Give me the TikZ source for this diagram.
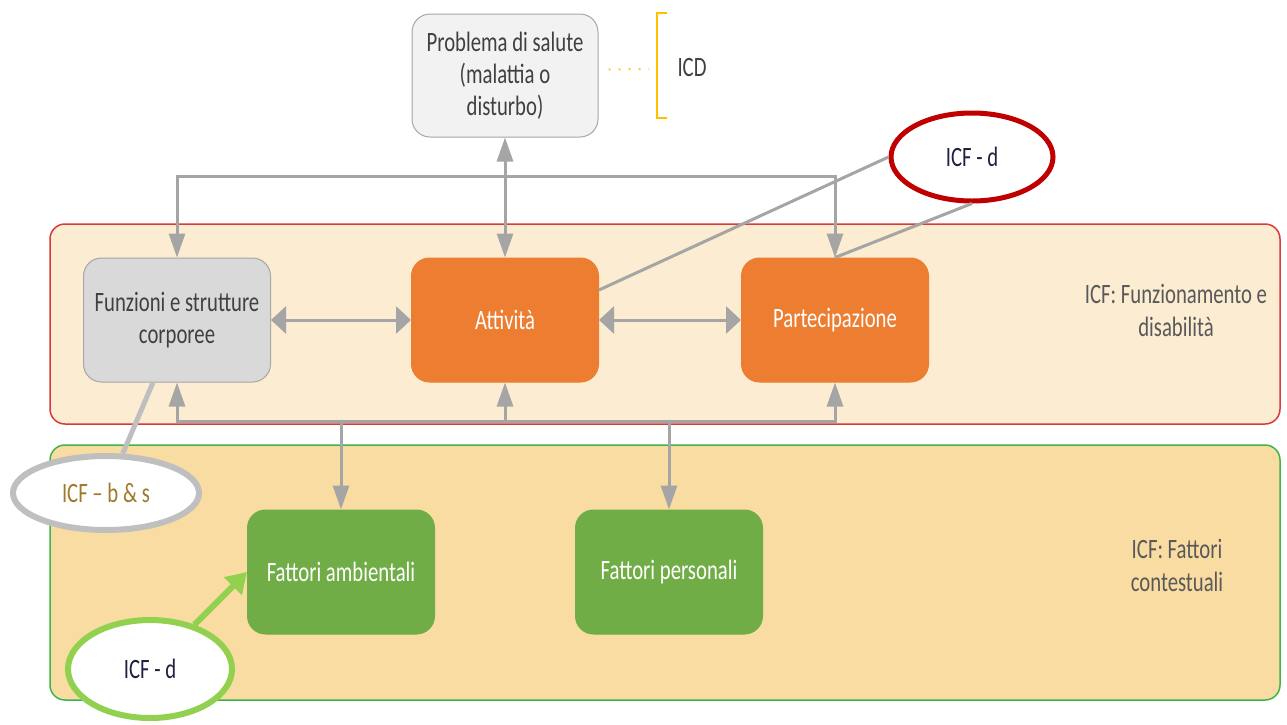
\documentclass[tikz,border=0pt]{standalone}
\usepackage{fontspec}
\setmainfont{Carlito}[FakeStretch=0.74]
\usetikzlibrary{arrows.meta,shapes.geometric,calc}
\definecolor{bandAfill}{HTML}{FBECD2}
\definecolor{bandAline}{HTML}{D93A3A}
\definecolor{bandBfill}{HTML}{F8DCA1}
\definecolor{bandBline}{HTML}{3DB54A}
\definecolor{arrgray}{HTML}{A5A5A5}
\definecolor{lightgray}{HTML}{BFBFBF}
\definecolor{probfill}{HTML}{F2F2F2}
\definecolor{funfill}{HTML}{D9D9D9}
\definecolor{boxline}{HTML}{A6A6A6}
\definecolor{orangefill}{HTML}{ED7D31}
\definecolor{greenfill}{HTML}{70AD47}
\definecolor{lightgreen}{HTML}{92D050}
\definecolor{darkred}{HTML}{C00000}
\definecolor{gold}{HTML}{FFC000}
\definecolor{textgray}{HTML}{404040}
\definecolor{labelgray}{HTML}{595959}
\definecolor{navy}{HTML}{1F1F40}
\definecolor{brownish}{HTML}{A07A2A}
\tikzset{
  box/.style={rectangle, rounded corners=18pt, minimum width=187pt, minimum height=124pt,
    align=center, font=\fontsize{28}{32}\selectfont, line width=1pt, inner sep=0pt},
  graybox/.style={box, fill=#1, draw=boxline, text=textgray},
  colbox/.style={box, fill=#1, draw=#1, text=white},
  band/.style={rounded corners=15pt, line width=1.5pt},
  conn/.style={draw=arrgray, line width=3pt},
  vtip/.style={conn, {Triangle[length=24pt,width=16pt]}-{Triangle[length=24pt,width=16pt]}},
  vtipend/.style={conn, -{Triangle[length=24pt,width=16pt]}},
  htip/.style={conn, {Triangle[length=15pt,width=27pt]}-{Triangle[length=15pt,width=27pt]}},
  oval/.style={ellipse, fill=white, font=\fontsize{28}{32}\selectfont, inner sep=0pt},
  bandlabel/.style={align=center, text=labelgray, font=\fontsize{28}{33}\selectfont},
}
\begin{document}
\begin{tikzpicture}[x=1pt,y=-1pt]
\useasboundingbox (0,0) rectangle (1287,724);
% bands
\draw[band, fill=bandAfill, draw=bandAline] (50,224) rectangle (1280,424);
\draw[band, fill=bandBfill, draw=bandBline] (50,445) rectangle (1280,700);
\node[bandlabel] (lblA) at (1176,310) {ICF: Funzionamento e\\disabilità};
\node[bandlabel] (lblB) at (1177,565) {ICF: Fattori\\contestuali};
% boxes
\node[graybox=probfill, minimum width=186pt, minimum height=123pt] (prob) at (505,75.5) {Problema di salute\\(malattia o\\disturbo)};
\node[graybox=funfill] (fun) at (177,320) {Funzioni e strutture\\corporee};
\node[colbox=orangefill] (att) at (505,320) {Attività};
\node[colbox=orangefill] (par) at (835,320) {Partecipazione};
\node[colbox=greenfill] (amb) at (341,572) {Fattori ambientali};
\node[colbox=greenfill] (pers) at (669,572) {Fattori personali};
% ICD
\node[text=textgray, font=\fontsize{28}{32}\selectfont] (icd) at (692,68) {ICD};
\coordinate (bt) at (667,13);
\coordinate (bb) at (667,118);
\draw[gold, line width=2pt] (bt) -- (657,13) -- (657,118) -- (bb);
\draw[gold!80, line width=2pt, dash pattern=on 2pt off 8pt] ($(prob.east)+(10,-6)$) -- (649,69);
% buses
\coordinate (ty) at (0,176);
\coordinate (by) at (0,421);
\draw[vtip] (fun.north) |- (par.north |- ty) -- (par.north);
\draw[vtip] (prob.south) -- (att.north);
\draw[htip] (fun.east) -- (att.west);
\draw[htip] (att.east) -- (par.west);
\draw[vtip] (fun.south) |- (par.south |- by) -- (par.south);
\draw[vtipend] (att.south |- by) -- (att.south);
\draw[vtipend] (amb.north |- by) -- (amb.north);
\draw[vtipend] (pers.north |- by) -- (pers.north);
% ICF - d red
\node[oval, draw=darkred, line width=5pt, minimum width=162pt, minimum height=88pt, text=navy] (icfd) at (972,157) {ICF - d};
\draw[conn] ($(att.east)+(0,-30)$) -- (icfd.west);
\draw[conn] (icfd.south) -- (par.north);
% ICF b & s
\node[oval, draw=lightgray, line width=6pt, minimum width=186pt, minimum height=74pt, text=brownish] (bs) at (106,493) {ICF – b \& s};
\draw[lightgray, line width=5pt] (bs) -- ($(fun.south)+(-24,0)$);
% ICF - d green
\node[oval, draw=lightgreen, line width=6pt, minimum width=164pt, minimum height=98pt, text=navy] (gd) at (150,669) {ICF - d};
\draw[lightgreen, line width=6pt, -{Triangle[length=20pt,width=24pt]}] (gd) -- (amb.west);
\end{tikzpicture}
\end{document}
